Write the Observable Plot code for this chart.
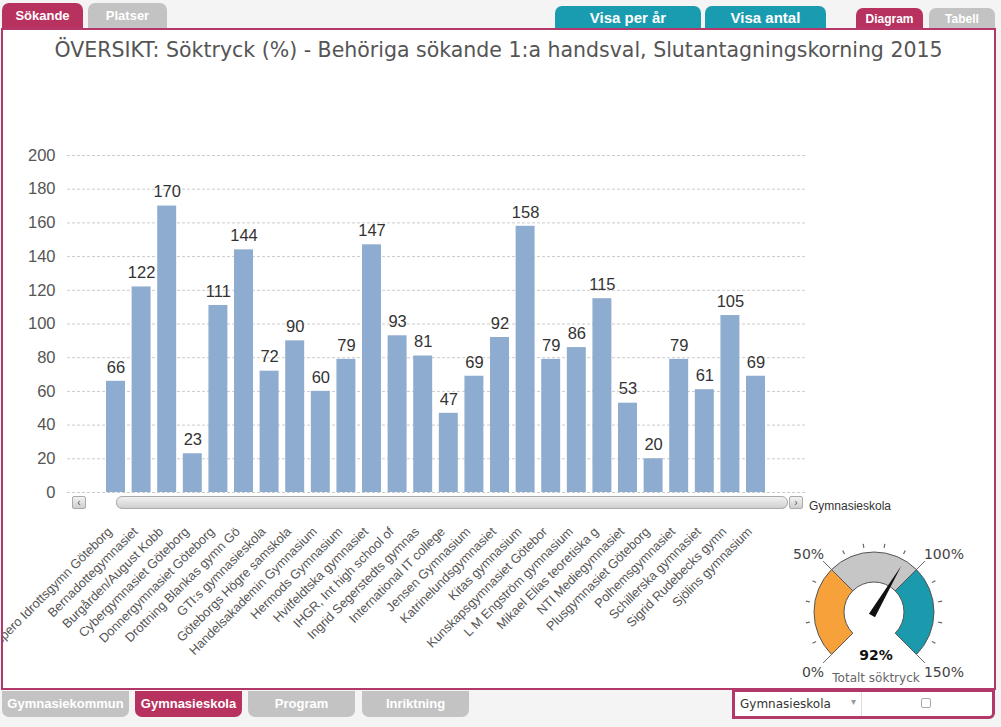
<!DOCTYPE html>
<html><head><meta charset="utf-8">
<script src="https://cdn.jsdelivr.net/npm/d3@7"></script>
<script src="https://cdn.jsdelivr.net/npm/@observablehq/plot@0.6"></script>
<style>
body{margin:0;width:1001px;height:727px;background:#f4f4f4;position:relative;overflow:hidden;font-family:"Liberation Sans",Arial,sans-serif;}
.tab{position:absolute;color:#fff;font-weight:bold;text-align:center;box-sizing:border-box;}
.pink{background:#b8325f;}
.grey{background:#c3c3c3;}
.teal{background:#1a9cb0;}
.top{border-radius:7px 7px 0 0;}
.bot{border-radius:0 0 7px 7px;}
#frame{position:absolute;left:1px;top:28px;width:995px;height:662px;box-sizing:border-box;border:2px solid #b3386a;background:#fff;overflow:hidden;}
#title{position:absolute;left:0;top:8px;width:991px;text-align:center;font-family:"DejaVu Sans",Verdana,sans-serif;font-size:20.5px;color:#555;white-space:nowrap;}
#chart{position:absolute;left:-1px;top:110px;}
#gauge{position:absolute;left:774px;top:461px;}
.sb{position:absolute;box-sizing:border-box;border:1px solid #aaa;background:linear-gradient(#f2f2f2,#cfcfcf);}
.btn{width:14px;height:13px;border-radius:2px;font-size:10px;line-height:11px;text-align:center;color:#555;}
#xlabel{position:absolute;left:806px;top:469px;font-size:12px;color:#333;}
#sel{position:absolute;left:732px;top:689px;width:263px;height:30px;box-sizing:border-box;border:3px solid #b3386a;border-radius:0 0 6px 0;background:#fff;}
</style></head>
<body>
<div class="tab pink top" style="left:2px;top:3px;width:81px;height:26px;font-size:13px;line-height:26px;">Sökande</div>
<div class="tab grey top" style="left:88px;top:3px;width:79px;height:26px;font-size:13px;line-height:26px;">Platser</div>
<div class="tab teal top" style="left:555px;top:6px;width:146px;height:24px;font-size:15px;line-height:24px;">Visa per år</div>
<div class="tab teal top" style="left:705px;top:6px;width:121px;height:24px;font-size:15px;line-height:24px;">Visa antal</div>
<div class="tab pink top" style="left:856px;top:8px;width:67px;height:22px;font-size:12px;line-height:22px;">Diagram</div>
<div class="tab grey top" style="left:929px;top:8px;width:66px;height:22px;font-size:12px;line-height:22px;">Tabell</div>
<div id="frame">
  <div id="title">ÖVERSIKT: Söktryck (%) - Behöriga sökande 1:a handsval, Slutantagningskorning 2015</div>
  <div id="chart"></div>
  <div class="sb btn" style="left:69px;top:466px;">&lsaquo;</div>
  <div class="sb" style="left:113px;top:466px;width:672px;height:13px;border-radius:6px;"></div>
  <div class="sb btn" style="left:786px;top:466px;">&rsaquo;</div>
  <div id="xlabel">Gymnasieskola</div>
  <div id="gauge"></div>
</div>
<div class="tab grey bot" style="left:2px;top:691px;width:127px;height:26px;font-size:13px;line-height:26px;">Gymnasiekommun</div>
<div class="tab pink bot" style="left:135px;top:691px;width:107px;height:26px;font-size:13px;line-height:26px;">Gymnasieskola</div>
<div class="tab grey bot" style="left:248px;top:691px;width:107px;height:26px;font-size:13px;line-height:26px;">Program</div>
<div class="tab grey bot" style="left:362px;top:691px;width:107px;height:26px;font-size:13px;line-height:26px;">Inriktning</div>
<div id="sel">
  <span style="position:absolute;left:5px;top:5px;font-family:'DejaVu Sans',sans-serif;font-size:12px;color:#333;white-space:nowrap;">Gymnasieskola</span>
  <span style="position:absolute;left:116px;top:4px;font-size:10px;color:#999;">&#9662;</span>
  <span style="position:absolute;left:126px;top:0;width:1px;height:24px;background:#ddd;"></span>
  <span style="position:absolute;left:186px;top:6px;width:8px;height:8px;border:1px solid #aaa;border-radius:2px;"></span>
</div>
<script>
// ---- data ----
const schools = ["Aspero Idrottsgymn Göteborg","Bernadottegymnasiet","Burgården/August Kobb","Cybergymnasiet Göteborg","Donnergymnasiet Göteborg","Drottning Blankas gymn Gö","GTI:s gymnasieskola","Göteborgs Högre samskola","Handelsakademin Gymnasium","Hermods Gymnasium","Hvitfeldtska gymnasiet","IHGR, Int high school of","Ingrid Segerstedts gymnas","International IT college","Jensen Gymnasium","Katrinelundsgymnasiet","Kitas gymnasium","Kunskapsgymnasiet Götebor","L M Engström gymnasium","Mikael Elias teoretiska g","NTI Mediegymnasiet","Plusgymnasiet Göteborg","Polhemsgymnasiet","Schillerska gymnasiet","Sigrid Rudebecks gymn","Sjölins gymnasium"];
const values = [66,122,170,23,111,144,72,90,60,79,147,93,81,47,69,92,158,79,86,115,53,20,79,61,105,69];
const yTicks = [0,20,40,60,80,100,120,140,160,180,200];
const gaugeValue = 92;
const gaugeBands = [[0,50,"#f7a13a"],[50,100,"#c6c6c6"],[100,150,"#1c9aad"]];
const gaugeMajor = [0,50,100,150];
const gaugeMinor = [10,20,30,40,60,70,80,90,110,120,130,140];
const gaugeTitle = "Totalt söktryck";

const data = schools.map((s,i)=>({school:s, value:values[i]}));

const chart = Plot.plot({
  width: 810, height: 550,
  marginTop: 15, marginBottom: 198, marginLeft: 65, marginRight: 7,
  x: {domain: schools, range: [100.7, 766.3], paddingInner: 0.26, paddingOuter: 0.13, round: false, label: null},
  y: {domain: [0,200], label: null},
  style: {background: "transparent", fontFamily: "'Liberation Sans', Arial, sans-serif", overflow: "visible"},
  marks: [
    Plot.ruleY(yTicks, {stroke: "#cccccc", strokeDasharray: "3,2"}),
    Plot.axisY(yTicks, {tickSize: 0, tickPadding: 12, fontSize: 16.5, fill: "#555", label: null}),
    Plot.axisX({tickSize: 0, tickRotate: -45, tickPadding: 37, dx: -6, fontSize: 12.8, fill: "#555", label: null}),
    Plot.barY(data, {x: "school", y: "value", fill: "#8eabd0"}),
    Plot.text(data, {x: "school", y: "value", text: d => String(d.value), dy: -14, fontSize: 16.5, fill: "#333"})
  ]
});
document.getElementById("chart").appendChild(chart);

// ---- gauge (d3) ----
const W = 221, H = 200, cx = 97, cy = 121, rO = 60, rI = 30;
const ang = d3.scaleLinear().domain([0,150]).range([-135,135]);
const rad = v => ang(v) * Math.PI / 180;
const svg = d3.select("#gauge").append("svg").attr("width", W).attr("height", H)
  .style("font-family", "'DejaVu Sans', Verdana, sans-serif");
const g = svg.append("g").attr("transform", `translate(${cx},${cy})`);
const arc = d3.arc().innerRadius(rI).outerRadius(rO);
g.selectAll("path.band").data(gaugeBands).join("path")
  .attr("d", d => arc({startAngle: rad(d[0]), endAngle: rad(d[1])}))
  .attr("fill", d => d[2]).attr("stroke", "#555").attr("stroke-width", 1);
const pt = (v, r) => [Math.sin(rad(v)) * r, -Math.cos(rad(v)) * r];
g.selectAll("line.minor").data(gaugeMinor).join("line")
  .attr("x1", d => pt(d, 65)[0]).attr("y1", d => pt(d, 65)[1])
  .attr("x2", d => pt(d, 69)[0]).attr("y2", d => pt(d, 69)[1])
  .attr("stroke", "#666").attr("stroke-width", 1.2);
g.selectAll("line.major").data(gaugeMajor).join("line")
  .attr("x1", d => pt(d, rO)[0]).attr("y1", d => pt(d, rO)[1])
  .attr("x2", d => pt(d, 72)[0]).attr("y2", d => pt(d, 72)[1])
  .attr("stroke", "#666").attr("stroke-width", 1);
g.selectAll("text.lab").data(gaugeMajor).join("text")
  .attr("x", d => pt(d, 72)[0] + (d < 75 ? 1 : -1))
  .attr("y", d => pt(d, 84)[1] + 6)
  .attr("text-anchor", d => d < 75 ? "end" : "start")
  .attr("font-size", 14).attr("fill", "#444")
  .text(d => d + "%");
// needle
const a = rad(gaugeValue), L = 54, w = 3.5;
const tip = [Math.sin(a) * L, -Math.cos(a) * L];
const back = [-Math.sin(a) * 4, Math.cos(a) * 4];
const perp = [Math.cos(a) * w, Math.sin(a) * w];
g.append("path")
  .attr("d", `M${back[0]+perp[0]},${back[1]+perp[1]}L${tip[0]},${tip[1]}L${back[0]-perp[0]},${back[1]-perp[1]}Z`)
  .attr("fill", "#111");
g.append("text").attr("x", 2).attr("y", 48).attr("text-anchor", "middle")
  .attr("font-size", 14).attr("font-weight", "bold").attr("fill", "#111").text(gaugeValue + "%");
g.append("text").attr("x", 2).attr("y", 70).attr("text-anchor", "middle")
  .attr("font-size", 12).attr("fill", "#666").text(gaugeTitle);
</script>
</body></html>
